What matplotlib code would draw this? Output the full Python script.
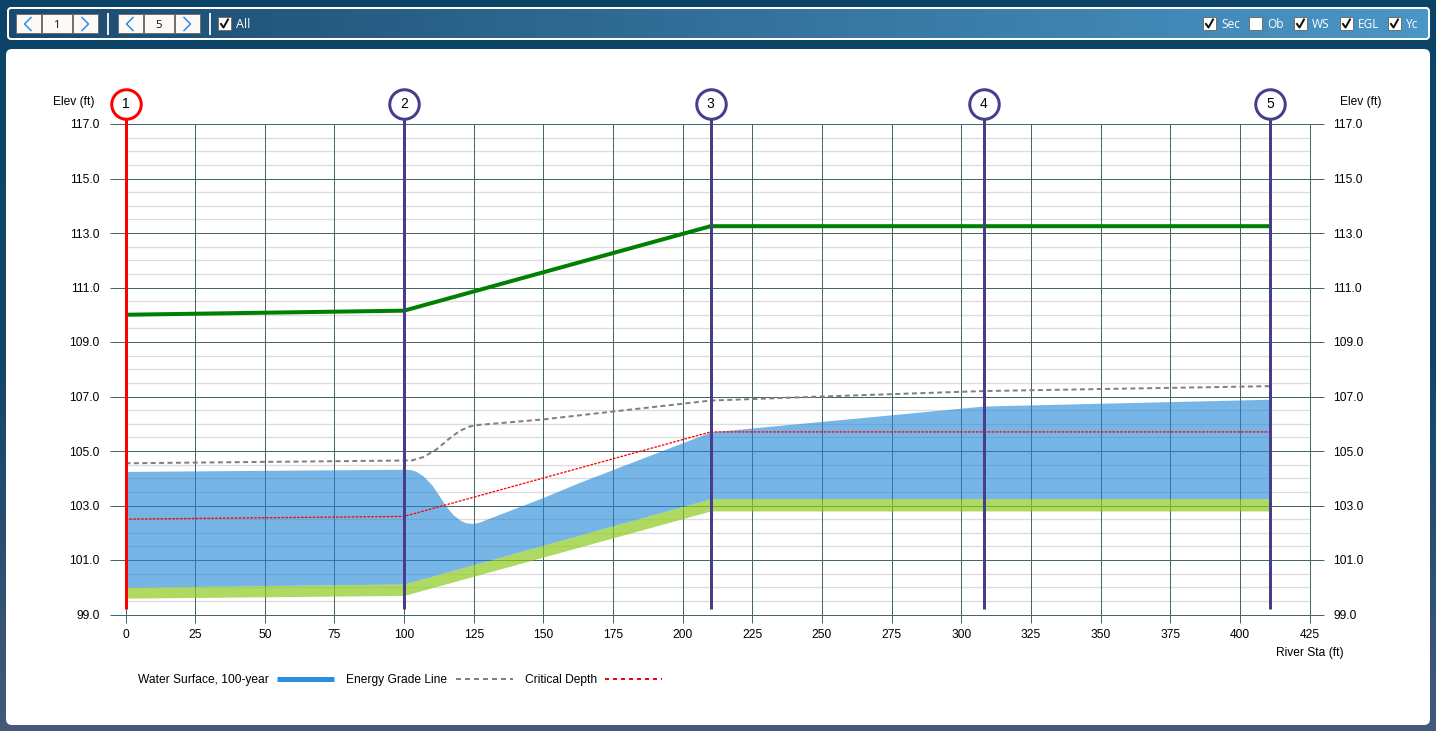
import matplotlib
matplotlib.use('Agg')
import matplotlib.pyplot as plt
from matplotlib.colors import LinearSegmentedColormap
from matplotlib.patches import FancyBboxPatch, Rectangle
import numpy as np

plt.rcParams['font.family'] = ['Liberation Sans', 'DejaVu Sans']

# datos
section_names = ['1', '2', '3', '4', '5']
section_sta = [0, 100, 210, 308, 411]

sta_bed = [0, 100, 210, 308, 411]
bed_low = [99.6, 99.7, 102.8, 102.8, 102.8]
bed_high = [100.0, 100.12, 103.25, 103.25, 103.25]
top_road = [110.0, 110.15, 113.25, 113.25, 113.25]

sta_ws = [0, 100, 102, 104, 106.7, 110, 112.7, 115, 117.5, 120, 122, 124.7, 127, 129.5, 150, 163, 210, 308, 411]
ws = [104.25, 104.33, 104.32, 104.27, 104.1, 103.75, 103.34, 102.98, 102.67, 102.47, 102.37, 102.34, 102.39, 102.49, 103.3, 103.85, 105.7, 106.65, 106.9]

sta_egl = [0, 100, 103, 107, 111.5, 116.3, 120, 123.5, 127, 131.8, 150, 210, 250, 308, 411]
egl = [104.55, 104.65, 104.66, 104.78, 105.05, 105.46, 105.74, 105.9, 105.96, 106.0, 106.16, 106.85, 107.0, 107.2, 107.38]

sta_yc = [0, 100, 210, 308, 411]
yc = [102.5, 102.6, 105.7, 105.7, 105.7]

x_ticks = list(range(0, 426, 25))
y_major = list(range(99, 118, 2))
y_minor = list(np.arange(99, 117.5, 0.5))

header_left = [('1', 16), ('5', 118)]
header_right = [('Sec', 1203, True), ('Ob', 1249, False), ('WS', 1294, True), ('EGL', 1340, True), ('Yc', 1388, True)]

PX = 0.72  # un pixel en puntos a dpi 100
GRID = '#47666b'

fig = plt.figure(figsize=(14.36, 7.31), dpi=100)

# fondo y paneles en coordenadas de pixel
bg = fig.add_axes([0, 0, 1, 1])
bg.set_xlim(0, 1436)
bg.set_ylim(731, 0)
bg.axis('off')

page_cmap = LinearSegmentedColormap.from_list('page', ['#0c4468', '#124668', '#44597c'])
bg.imshow(np.linspace(0, 1, 256).reshape(-1, 1), cmap=page_cmap, aspect='auto', extent=[0, 1436, 731, 0], zorder=0)

head_box = FancyBboxPatch((8, 8), 1421, 31, boxstyle='round,pad=0,rounding_size=3', fc='none', ec='white', lw=2 * PX, zorder=2)
bg.add_patch(head_box)
head_cmap = LinearSegmentedColormap.from_list('head', ['#1c4a6e', '#4a96c6'])
im = bg.imshow(np.linspace(0, 1, 256).reshape(1, -1), cmap=head_cmap, aspect='auto', extent=[8, 1429, 39, 8], zorder=1)
im.set_clip_path(head_box)
bg.set_xlim(0, 1436)
bg.set_ylim(731, 0)

bg.add_patch(FancyBboxPatch((6, 49), 1424, 676, boxstyle='round,pad=0,rounding_size=6', fc='white', ec='none', zorder=1))


def chevron(x, y, direction):
    bg.plot([x - 3 * direction, x + 3.5 * direction, x - 3 * direction], [y - 6.5, y, y + 6.5], color='#2a8fe8', lw=1.5 * PX, zorder=4)


def checkbox(x, checked):
    bg.add_patch(Rectangle((x, 17), 13, 13, fc='white', ec='#707070', lw=PX, zorder=3))
    if checked:
        bg.plot([x + 3, x + 5.5, x + 10], [24, 27.5, 19.5], color='#111111', lw=2 * PX, zorder=4)


for val, x0 in header_left:
    for xs, w in [(x0, 25), (x0 + 26, 30), (x0 + 57, 25)]:
        bg.add_patch(Rectangle((xs, 14), w, 19, fc='#fdf9f7', ec='#707070', lw=PX, zorder=3))
    chevron(x0 + 12, 24, -1)
    chevron(x0 + 69, 24, 1)
    bg.text(x0 + 41, 25, val, ha='center', va='center', fontsize=8.2, family='Open Sans', color='#111111', zorder=4)

for sep in [108, 210]:
    bg.plot([sep, sep], [14, 34], color='#e6ecf0', lw=2 * PX, zorder=3)

checkbox(218, True)
bg.text(236, 24, 'All', ha='left', va='center', fontsize=9, family='Open Sans', color='white', zorder=4)

for label, x0, checked in header_right:
    checkbox(x0, checked)
    bg.text(x0 + 18, 24, label, ha='left', va='center', fontsize=8.6, family='Open Sans', color='white', zorder=4)

bg.text(53, 102, 'Elev (ft)', ha='left', va='center', fontsize=8.64, color='black', zorder=4)
bg.text(1340, 102, 'Elev (ft)', ha='left', va='center', fontsize=8.64, color='black', zorder=4)
bg.text(1276, 653, 'River Sta (ft)', ha='left', va='center', fontsize=8.64, color='black', zorder=4)

# grafico principal
ax = fig.add_axes([125.5 / 1436, (731 - 614.5) / 731, (1309.5 - 125.5) / 1436, (614.5 - 124) / 731])
ax.patch.set_alpha(0)
ax.set_xlim(0, 425)
ax.set_ylim(99, 117)
ax.set_axisbelow(True)
ax.xaxis.set_zorder(0.7)

ax.set_xticks(x_ticks)
ax.set_yticks(y_major)
ax.set_yticks(y_minor, minor=True)
ax.set_yticklabels([f'{v:.1f}' for v in y_major], fontsize=8.64)
ax.set_xticklabels([str(v) for v in x_ticks], fontsize=8.64)
ax.tick_params(axis='y', which='major', length=16 * PX, width=PX, color=GRID, pad=10 * PX)
ax.tick_params(axis='y', which='minor', length=0)
ax.tick_params(axis='x', length=8 * PX, width=PX, color=GRID, pad=7 * PX)
ax.grid(True, axis='y', which='minor', color='#dcdcdc', lw=1.3 * PX)
ax.grid(True, axis='y', which='major', color=GRID, lw=PX)
ax.grid(True, axis='x', color=GRID, lw=PX)
for s in ax.spines.values():
    s.set_color(GRID)
    s.set_linewidth(PX)

ax2 = ax.twinx()
ax2.set_ylim(99, 117)
ax2.set_yticks(y_major)
ax2.set_yticklabels([f'{v:.1f}' for v in y_major], fontsize=8.64)
ax2.tick_params(axis='y', length=14 * PX, width=PX, color=GRID, pad=9.5 * PX)
ax2.patch.set_alpha(0)
for s in ax2.spines.values():
    s.set_visible(False)

# seccion: cauce y agua
ax.fill_between(sta_bed, bed_low, bed_high, color='#8ccb1e', alpha=0.7, lw=0, zorder=2)
ws_low = np.interp(sta_ws, sta_bed, bed_high)
ax.fill_between(sta_ws, ws_low, ws, color='#1e85d8', alpha=0.6, lw=0, zorder=2)

ax.plot(sta_bed, top_road, color='#008000', lw=4 * PX, zorder=3, solid_capstyle='butt')
ax.plot(sta_egl, egl, color='#808080', lw=2 * PX, dashes=(2.5, 1.7), zorder=3)
ax.plot(sta_yc, yc, color='#ff0000', lw=1.3 * PX, dashes=(2, 1), zorder=3)

# lineas de seccion con su circulo
for i, (name, sta) in enumerate(zip(section_names, section_sta)):
    col = '#ff0000' if i == 0 else '#483d8b'
    ax.plot([sta, sta], [99.2, 117.75], color=col, lw=3 * PX, clip_on=False, zorder=5, solid_capstyle='butt')
    ax.plot([sta], [117.75], 'o', ms=29.5 * PX, mfc='white', mec=col, mew=3 * PX, clip_on=False, zorder=6)
    ax.text(sta, 117.75, name, ha='center', va='center', fontsize=10, color='black', zorder=7, clip_on=False)

# leyenda
ax.plot([], [], color='#2a8fdc', lw=5 * PX, label='Water Surface, 100-year', solid_capstyle='butt')
ax.plot([], [], color='#808080', lw=2 * PX, dashes=(2.5, 2), label='Energy Grade Line')
ax.plot([], [], color='#ff0000', lw=2 * PX, dashes=(2, 2), label='Critical Depth')
ax2.set_zorder(0)
ax.set_zorder(1)
ax.legend(loc='upper left', bbox_to_anchor=(138 / 1436, 1 - 674 / 731), bbox_transform=fig.transFigure,
          ncol=3, frameon=False, markerfirst=False, fontsize=8.64, handlelength=4.75, handletextpad=0.7,
          columnspacing=1.0, borderpad=0, borderaxespad=0)

fig.savefig('out.png', dpi=100)
